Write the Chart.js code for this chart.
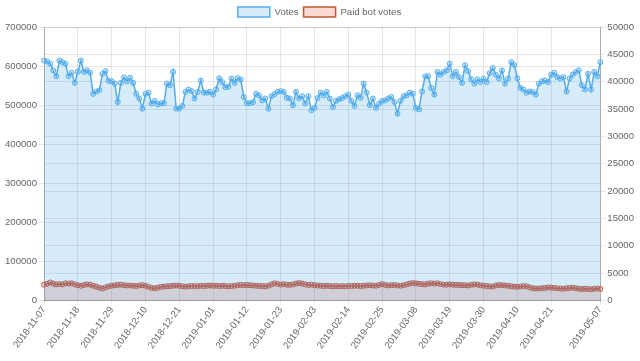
<!DOCTYPE html>
<html>
<head>
<meta charset="utf-8">
<script src="https://cdn.jsdelivr.net/npm/chart.js@4/dist/chart.umd.min.js"></script>
<style>
html,body{margin:0;padding:0;background:#fff;}
#wrap{width:640px;height:361px;position:relative;}
</style>
</head>
<body>
<div id="wrap"><canvas id="c"></canvas></div>
<script>
// ---- Data ----
const startDate = '2018-11-07';
const dayCount = 182;
const tickEvery = 11;

const votes = [
614000,612000,606000,589000,574000,614000,610000,606000,574000,583000,557000,586000,614000,
585000,589000,583000,529000,535000,538000,580000,587000,562000,561000,555000,
508000,
557000,571000,561000,570000,557000,529000,517000,
491000,
529000,532000,504000,511000,502000,505000,505000,555000,551000,
585000,
491000,491000,498000,
534000,540000,536000,517000,534000,563000,532000,532000,534000,527000,540000,569000,559000,546000,547000,568000,557000,569000,566000,521000,505000,505000,508000,529000,525000,512000,517000,
491000,
523000,528000,534000,536000,534000,519000,517000,500000,534000,517000,523000,504000,523000,
487000,
493000,518000,532000,
525000,534000,517000,495000,511000,515000,518000,
523000,527000,
511000,498000,525000,519000,555000,532000,500000,517000,493000,504000,511000,512000,517000,521000,508000,
478000,
511000,523000,525000,532000,529000,493000,489000,535000,574000,574000,544000,527000,585000,578000,585000,589000,
606000,
574000,585000,572000,557000,602000,587000,566000,555000,566000,559000,568000,559000,582000,595000,578000,568000,589000,555000,568000,
610000,
603000,569000,544000,540000,532000,535000,534000,527000,555000,561000,563000,559000,578000,583000,572000,568000,572000,535000,568000,578000,585000,589000,551000,540000,580000,540000,585000,574000,610000
];

const paidBotVotes = [
2900,3050,3300,3100,2950,3000,
2950,3150,3100,3150,2950,2800,2700,
2850,2950,2900,2700,2550,2350,2200,2400,
2600,2700,2800,2850,2900,2800,2750,2750,2700,2650,
2750,2800,2700,2500,2300,2250,2350,2500,2550,2600,
2650,2700,2750,2700,2600,2550,2600,2650,2650,2600,
2700,2650,2700,2750,2700,2700,2650,2700,2650,2600,
2650,2700,2800,2850,2800,2850,2800,2750,2700,2650,
2650,2600,2700,2950,3150,3050,2900,3000,2900,2850,
2950,3100,3200,3100,2950,2850,2900,2800,2750,2700,
2650,2700,2650,2600,2650,2600,2650,2600,2650,2650,
2700,2700,2650,2700,2750,2800,2750,2700,2850,3000,
2850,2750,2800,2850,2750,2700,2800,2950,3100,3200,
3150,3050,3000,2950,3100,3150,3100,3150,3000,2900,
2900,2950,2900,2850,2850,2800,2800,2750,2850,2950,
2900,2800,2700,2650,2600,2550,2750,2850,2800,2750,
2700,2600,2550,2500,2550,2650,2600,2400,2250,2200,
2200,2250,2300,2400,2350,2300,2250,2200,2150,2250,
2300,2350,2250,2150,2100,2150,2100,2050,2150,2200,2100
];

// Build date labels
function buildLabels(start, n){
  const out = [];
  const d = new Date(start + 'T00:00:00Z');
  for (let i = 0; i < n; i++){
    const dt = new Date(d.getTime() + i*86400000);
    out.push(dt.toISOString().slice(0,10));
  }
  return out;
}
const labels = buildLabels(startDate, dayCount);

Chart.defaults.font.family = "'Helvetica Neue', Helvetica, Arial, sans-serif";
Chart.defaults.font.size = 9.6;
Chart.defaults.color = '#666';

new Chart(document.getElementById('c'), {
  type: 'line',
  data: {
    labels: labels,
    datasets: [
      {
        label: 'Votes',
        data: votes,
        yAxisID: 'y',
        borderColor: 'rgb(84,172,236)',
        backgroundColor: 'rgba(54,162,235,0.2)',
        pointBackgroundColor: 'rgba(54,162,235,0.2)',
        pointBorderColor: 'rgb(84,172,236)',
        borderWidth: 1.5,
        pointRadius: 2.5,
        pointBorderWidth: 1,
        tension: 0,
        fill: 'origin'
      },
      {
        label: 'Paid bot votes',
        data: paidBotVotes,
        yAxisID: 'y1',
        borderColor: 'rgb(198,84,58)',
        backgroundColor: 'rgba(225,110,80,0.25)',
        pointBackgroundColor: 'rgba(225,110,80,0.25)',
        pointBorderColor: 'rgb(198,84,58)',
        borderWidth: 1.5,
        pointRadius: 2.5,
        pointBorderWidth: 1,
        tension: 0,
        fill: 'origin'
      }
    ]
  },
  options: {
    responsive: true,
    maintainAspectRatio: false,
    animation: false,
    layout: { padding: { top: 2, bottom: 10, left: 3, right: 4 } },
    plugins: {
      legend: {
        position: 'top',
        labels: { boxWidth: 32, boxHeight: 10, padding: 5, color: '#666' }
      },
      tooltip: { enabled: false }
    },
    scales: {
      x: {
        grid: { color: 'rgba(0,0,0,0.1)', drawTicks: true, tickLength: 4 },
        border: { color: 'rgba(0,0,0,0.25)' },
        ticks: {
          autoSkip: false,
          minRotation: 54,
          maxRotation: 54,
          padding: 0,
          callback: function(v, i){
            if (i % tickEvery === 0 && i < dayCount - 10) return labels[i];
            if (i === dayCount - 1) return labels[i];
            return null;
          }
        }
      },
      y: {
        position: 'left',
        min: 0, max: 700000,
        grid: { color: 'rgba(0,0,0,0.1)', tickLength: 5 },
        border: { color: 'rgba(0,0,0,0.25)' },
        ticks: { stepSize: 100000, padding: 2, callback: v => String(v) }
      },
      y1: {
        position: 'right',
        min: 0, max: 50000,
        grid: { color: 'rgba(0,0,0,0.1)', tickLength: 5 },
        border: { color: 'rgba(0,0,0,0.25)' },
        ticks: { stepSize: 5000, padding: 2, callback: v => String(v) }
      }
    }
  }
});
</script>
</body>
</html>
